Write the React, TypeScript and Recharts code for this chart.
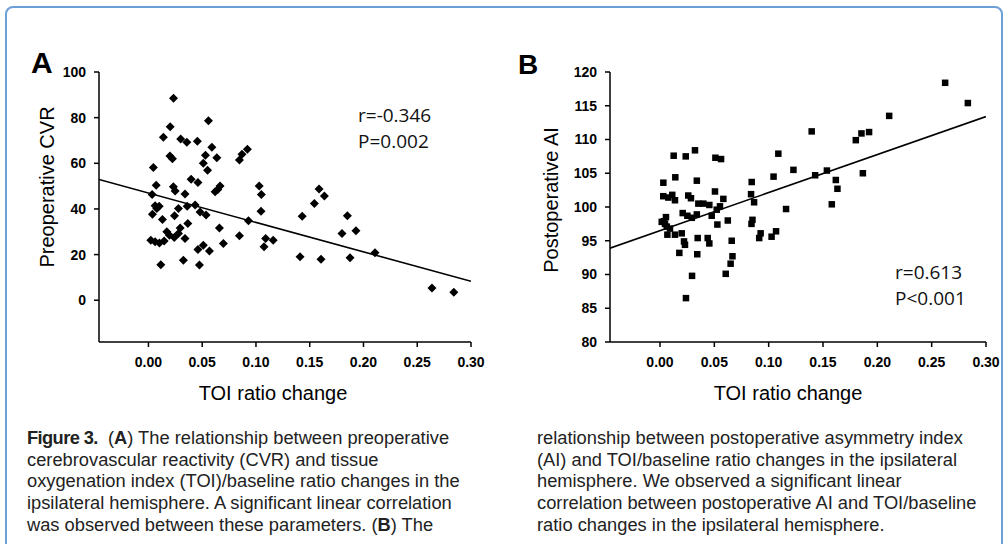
import React from 'react';
import { ScatterChart, Scatter, XAxis, YAxis } from 'recharts';

// TOI ratio change vs preoperative CVR (panel A)
const cvrPoints: [number, number][] = [
  [0.0233, 88.5], [0.0558, 78.6], [0.0202, 76], [0.0139, 71.4], [0.030, 70.6],
  [0.0357, 69.2], [0.0455, 69.7], [0.059, 67], [0.053, 63.5], [0.0636, 62.4],
  [0.020, 63.2], [0.0223, 62], [0.051, 60], [0.055, 57], [0.0046, 58.2],
  [0.092, 66.2], [0.087, 64], [0.0846, 61.4], [0.0397, 53], [0.046, 51.6],
  [0.0072, 50.4], [0.0232, 49.7], [0.0248, 47.9], [0.0666, 50], [0.0645, 48.5],
  [0.062, 47.5], [0.034, 46.5], [0.0034, 46.3], [0.103, 50.1], [0.105, 46.3],
  [0.0062, 41.4], [0.010, 41.2], [0.0078, 40.2], [0.0037, 37.7], [0.0279, 40.2],
  [0.036, 41.2], [0.0434, 41.7], [0.048, 38.7], [0.0536, 37.3], [0.0242, 37],
  [0.013, 35.4], [0.0366, 33.6], [0.093, 34.8], [0.1047, 39], [0.0171, 30],
  [0.0195, 28.5], [0.0295, 31.7], [0.0279, 29.2], [0.034, 27], [0.024, 27.5],
  [0.066, 31.7], [0.0022, 26.3], [0.0062, 25.6], [0.0102, 25.1], [0.0146, 25.9],
  [0.0697, 24.9], [0.0846, 28.2], [0.109, 27], [0.116, 26.3], [0.1075, 23.4],
  [0.051, 24.1], [0.046, 22.2], [0.0567, 21.6], [0.0325, 17.5], [0.0115, 15.6],
  [0.0474, 15.4], [0.141, 19], [0.1605, 18], [0.1875, 18.6], [0.2107, 20.8],
  [0.180, 29.2], [0.193, 30.4], [0.2637, 5.4], [0.284, 3.5], [0.1587, 48.7],
  [0.1636, 45.7], [0.1543, 42.4], [0.143, 36.8], [0.185, 37],
];

// TOI ratio change vs postoperative AI (panel B)
const aiPoints: [number, number][] = [
  [0.0322, 108.4], [0.0126, 107.6], [0.0237, 107.5], [0.051, 107.3], [0.0562, 107.1],
  [0.0141, 104.4], [0.0031, 103.6], [0.0339, 103.9], [0.0506, 102.3], [0.003, 101.6],
  [0.0077, 101.4], [0.0113, 101.8], [0.0138, 101], [0.026, 101.7], [0.0285, 101.3],
  [0.0353, 100.5], [0.0399, 100.5], [0.0454, 100.3], [0.0583, 101.2], [0.0552, 100.1],
  [0.0522, 99.6], [0.0476, 98.7], [0.0209, 99.1], [0.0252, 98.7], [0.0339, 98.9],
  [0.0293, 98.4], [0.0055, 98.5], [0.0037, 97.9], [0.0016, 97.8], [0.0046, 97.5],
  [0.0062, 97.1], [0.0092, 96.8], [0.0068, 95.9], [0.0138, 95.9], [0.02, 96.1],
  [0.0221, 94.9], [0.023, 94.4], [0.0178, 93.2], [0.0347, 95.4], [0.0439, 95.4],
  [0.0454, 94.6], [0.0343, 93.0], [0.0528, 97.4], [0.0624, 98], [0.0295, 89.8],
  [0.0605, 90.1], [0.0239, 86.5], [0.066, 95], [0.0667, 92.7], [0.065, 91.6],
  [0.0842, 97.5], [0.0926, 96.1], [0.0913, 95.4], [0.1027, 95.6], [0.1068, 96.4],
  [0.2624, 118.4], [0.2833, 115.4], [0.2109, 113.5], [0.1924, 111.1], [0.1854, 110.9],
  [0.1802, 109.9], [0.1396, 111.2], [0.1089, 107.9], [0.1045, 104.5], [0.1228, 105.5],
  [0.1428, 104.7], [0.1536, 105.4], [0.1618, 104.0], [0.1633, 102.7], [0.1581, 100.4],
  [0.1867, 105.0], [0.0844, 103.7], [0.0838, 101.9], [0.0866, 100.7], [0.1160, 99.7],
  [0.0851, 98.1],
];

// fitted lines, read at both ends of the x range
const trendA: [number, number][] = [[-0.046, 52.9], [0.30, 8.3]];
const trendB: [number, number][] = [[-0.046, 93.9], [0.30, 113.4]];

const xTicks = [0, 0.05, 0.1, 0.15, 0.2, 0.25, 0.3];
const cvrTicks = [0, 20, 40, 60, 80, 100];
const aiTicks = [80, 85, 90, 95, 100, 105, 110, 115, 120];

const toXY = (arr: [number, number][]) => arr.map(([x, y]) => ({ x, y }));

const tickStyle = { fill: '#000', fontSize: 14, fontWeight: 700, fontFamily: 'Liberation Sans, Arial, sans-serif' };
const axisLine = { stroke: '#000', strokeWidth: 1.5 };

const Diamond = (props: any) => {
  const { cx, cy } = props;
  const r = 4.5;
  return <polygon points={`${cx},${cy - r} ${cx + r},${cy} ${cx},${cy + r} ${cx - r},${cy}`} fill="#000" />;
};

const Square = (props: any) => {
  const { cx, cy } = props;
  const s = 6.5;
  return <rect x={cx - s / 2} y={cy - s / 2} width={s} height={s} fill="#000" />;
};

const NoDot = () => <g />;

const Panel: React.FC<{
  points: [number, number][];
  trend: [number, number][];
  yDomain: [number, number];
  yTicks: number[];
  shape: any;
  marginLeft: number;
  marginRight: number;
  width: number;
}> = ({ points, trend, yDomain, yTicks, shape, marginLeft, marginRight, width }) => (
  <ScatterChart width={width} height={420} margin={{ top: 72, right: marginRight, bottom: 48, left: marginLeft }}>
    <XAxis
      type="number"
      dataKey="x"
      domain={[-0.046, 0.3]}
      ticks={xTicks}
      allowDataOverflow
      height={30}
      tickFormatter={(v: number) => v.toFixed(2)}
      tick={tickStyle}
      tickSize={5}
      tickMargin={10}
      axisLine={axisLine}
      tickLine={axisLine}
    />
    <YAxis
      type="number"
      dataKey="y"
      domain={yDomain}
      ticks={yTicks}
      allowDataOverflow
      width={60}
      tick={tickStyle}
      tickSize={5}
      tickMargin={8}
      axisLine={axisLine}
      tickLine={axisLine}
    />
    <Scatter data={toXY(points)} shape={shape} isAnimationActive={false} />
    <Scatter data={toXY(trend)} line={{ stroke: '#000', strokeWidth: 1.6 }} shape={NoDot} isAnimationActive={false} />
  </ScatterChart>
);

const abs = (left: number, top: number, extra: React.CSSProperties = {}): React.CSSProperties => ({
  position: 'absolute', left, top, ...extra,
});

const sans = 'Liberation Sans, Arial, Helvetica, sans-serif';
const noteFont: React.CSSProperties = { fontFamily: '"Open Sans", sans-serif', fontSize: 19, lineHeight: '26px', color: '#111' };
const titleFont: React.CSSProperties = { fontFamily: sans, fontSize: 20, color: '#000', whiteSpace: 'nowrap' };
const capFont: React.CSSProperties = { fontFamily: sans, fontSize: 18.3, color: '#222', whiteSpace: 'pre', lineHeight: '21.7px' };

const captionLeft = [
  'cerebrovascular reactivity (CVR) and tissue',
  'oxygenation index (TOI)/baseline ratio changes in the',
  'ipsilateral hemisphere. A significant linear correlation',
];
const captionRight = [
  'relationship between postoperative asymmetry index',
  '(AI) and TOI/baseline ratio changes in the ipsilateral',
  'hemisphere. We observed a significant linear',
  'correlation between postoperative AI and TOI/baseline',
  'ratio changes in the ipsilateral hemisphere.',
];

export default function App() {
  return (
    <div style={{ position: 'absolute', left: 0, top: 0, width: 1008, height: 544, overflow: 'hidden', background: '#fff' }}>
      <div style={abs(5, 6, { width: 994, height: 580, border: '2px solid #6b9fd6', borderRadius: 8 })} />

      <div style={abs(0, 0)}>
        <Panel points={cvrPoints} trend={trendA} yDomain={[-18.3, 100]} yTicks={cvrTicks} shape={Diamond}
          marginLeft={39} marginRight={29} width={500} />
      </div>
      <div style={abs(504, 0)}>
        <Panel points={aiPoints} trend={trendB} yDomain={[80, 120]} yTicks={aiTicks} shape={Square}
          marginLeft={46} marginRight={22} width={504} />
      </div>

      <div style={abs(31, 46, { fontFamily: sans, fontSize: 30, fontWeight: 700 })}>A</div>
      <div style={abs(518, 49, { fontFamily: sans, fontSize: 28, fontWeight: 700 })}>B</div>

      <div style={abs(47, 187, { ...titleFont, transform: 'translate(-50%, -50%) rotate(-90deg)' })}>Preoperative CVR</div>
      <div style={abs(551, 200, { ...titleFont, transform: 'translate(-50%, -50%) rotate(-90deg)' })}>Postoperative AI</div>

      <div style={abs(273, 393, { ...titleFont, transform: 'translate(-50%, -50%)' })}>TOI ratio change</div>
      <div style={abs(788, 393, { ...titleFont, transform: 'translate(-50%, -50%)' })}>TOI ratio change</div>

      <div style={abs(358, 102, noteFont)}>r=-0.346<br />P=0.002</div>
      <div style={abs(895, 259, noteFont)}>r=0.613<br />P&lt;0.001</div>

      <div style={abs(27, 427, capFont)}>
        <div>
          <span style={{ fontFamily: '"Liberation Sans Narrow", "Arial Narrow", sans-serif', fontWeight: 700, letterSpacing: -0.6 }}>Figure 3.</span>
          {'  ('}<b>A</b>{') The relationship between preoperative'}
        </div>
        {captionLeft.map((l) => <div key={l}>{l}</div>)}
        <div>{'was observed between these parameters. ('}<b>B</b>{') The'}</div>
      </div>
      <div style={abs(537, 427, capFont)}>
        {captionRight.map((l) => <div key={l}>{l}</div>)}
      </div>
    </div>
  );
}
